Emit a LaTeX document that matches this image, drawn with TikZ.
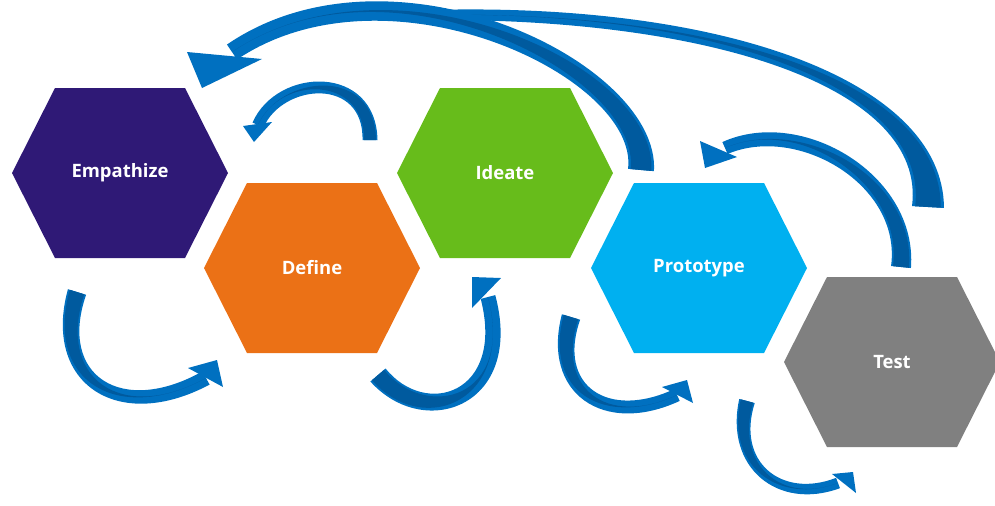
\documentclass[tikz,border=0pt]{standalone}
\usepackage{fontspec}
\setmainfont{Open Sans}
\usetikzlibrary{calc}

% colori delle fasi
\definecolor{empcol}{RGB}{47,25,118}
\definecolor{defcol}{RGB}{235,113,22}
\definecolor{ideacol}{RGB}{103,188,27}
\definecolor{protocol}{RGB}{0,176,240}
\definecolor{testcol}{RGB}{128,128,128}
% colori delle frecce
\definecolor{arrowblue}{RGB}{0,112,192}
\definecolor{arrowdark}{RGB}{0,90,158}

% un pixel del disegno
\newcommand{\pxu}{0.02cm}

% esagono pieno con etichetta: #1 nome, #2 centro, #3 colore, #4 testo
\newcommand{\hexcell}[4]{%
	\fill[#3] (#2) ++(-108,0) -- ++(43,-85) -- ++(130,0) -- ++(43,85) -- ++(-43,85) -- ++(-130,0) -- cycle;
	\node[cell label] (#1) at (#2) {#4};}

% corpo curvo della freccia: #1 coda, #2 e #3 controlli, #4 fine,
% #5 mezza larghezza in coda, #6 nella curva, #7 in fondo,
% #8 quanto si spostano i controlli lungo la curva (curve strette = valore alto)
\newcommand{\ribbon}[8]{%
	\pgfmathsetmacro\ribk{sqrt(1+(#8)^2)}%
	\pgfmathsetmacro\ribinA{atan(#8)-90}%
	\pgfmathsetmacro\riboutA{90+atan(#8)}%
	\pgfmathsetmacro\ribinB{90-atan(#8)}%
	\pgfmathsetmacro\riboutB{-90-atan(#8)}%
	\fill[arrow body]
		($(#1)!#5*\pxu!90:(#2)$) .. controls ($(#2)!#6*\ribk*\pxu!\ribinA:(#1)$) and ($(#3)!#6*\ribk*\pxu!\ribinB:(#4)$) .. ($(#4)!#7*\pxu!-90:(#3)$)
		-- ($(#4)!#7*\pxu!90:(#3)$) .. controls ($(#3)!#6*\ribk*\pxu!\riboutB:(#4)$) and ($(#2)!#6*\ribk*\pxu!\riboutA:(#1)$) .. ($(#1)!#5*\pxu!-90:(#2)$) -- cycle;
	\fill[arrow shade]
		($(#1)!0.8*#5*\pxu!90:(#2)$) .. controls ($(#2)!0.8*#6*\ribk*\pxu!\ribinA:(#1)$) and (#3) .. (#4)
		.. controls (#3) and ($(#2)!0.8*#6*\ribk*\pxu!\riboutA:(#1)$) .. ($(#1)!0.8*#5*\pxu!-90:(#2)$) -- cycle;}

\begin{document}
\begin{tikzpicture}[
		x=0.02cm, y=-0.02cm,
		% testo bianco in grassetto dentro gli esagoni
		cell label/.style={text=white, font=\bfseries\fontsize{10.5}{12}\selectfont},
		% frecce blu
		arrow body/.style={fill=arrowblue},
		arrow shade/.style={fill=arrowdark}
	]
	\useasboundingbox (0,0) rectangle (995,505);

	% =================================
	% ESAGONI
	% =================================
	\hexcell{emp}{120,173}{empcol}{Empathize}
	\hexcell{def}{312,268}{defcol}{Define}
	\hexcell{idea}{505,173}{ideacol}{Ideate}
	\hexcell{proto}{699,268}{protocol}{Prototype}
	\hexcell{test}{892,362}{testcol}{Test}

	% =================================
	% FRECCE LUNGHE (in alto)
	% =================================
	\ribbon{928,207}{935,85}{720,10}{430,15}{16}{8}{5}{0.55}
	\ribbon{641,170}{650,70}{390,-55}{232,52}{13}{10}{9}{0.85}
	\fill[arrow body] (187,52) -- (202,88) -- (262,59) -- cycle;

	\ribbon{901,267}{910,180}{800,115}{725,148}{10}{7.5}{6.5}{0.76}
	\fill[arrow body] (700,141) -- (705,168) -- (737,157) -- cycle;

	\ribbon{370,140}{370,70}{280,75}{258,125}{7.5}{6}{6}{1.08}
	\fill[arrow body] (243,126) -- (254,142) -- (272,122) -- cycle;

	% =================================
	% FRECCE CORTE (in basso)
	% =================================
	\ribbon{77,292}{50,380}{120,425}{206,378}{9.5}{6.5}{7.5}{0.9}
	\fill[arrow body] (188,368) -- (217,360) -- (223,387) -- cycle;

	\ribbon{378,375}{425,430}{515,400}{488,297}{10}{8}{7.5}{1.06}
	\fill[arrow body] (472,308) -- (472,277) -- (501,278) -- cycle;

	\ribbon{571,317}{549,390}{606,428}{677,395}{9.5}{6.5}{6.5}{0.87}
	\fill[arrow body] (662,387) -- (687,380) -- (693,403) -- cycle;

	\ribbon{747,401}{730,465}{780,505}{838,483}{8}{5}{5.5}{0.81}
	\fill[arrow body] (832,474) -- (853,472) -- (856,493) -- cycle;

\end{tikzpicture}
\end{document}
